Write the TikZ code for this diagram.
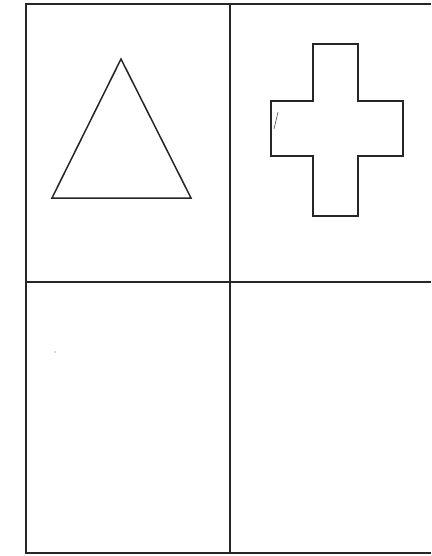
\documentclass[tikz,border=0pt]{standalone}
\begin{document}
\begin{tikzpicture}[x=1pt,y=-1pt,
  gridline/.style={draw=black!85,line width=1.8pt},
  shapeline/.style={draw=black!85,line width=1.5pt,line join=miter}]
\useasboundingbox[fill=white] (0,0) rectangle (431,556);
% grid
\coordinate (tl) at (26,4);
\coordinate (tr) at (431,4);
\coordinate (bl) at (26,553);
\coordinate (br) at (431,553);
\coordinate (mt) at (230,4);
\coordinate (mb) at (230,553);
\coordinate (ml) at (26,282);
\coordinate (mr) at (431,282);
\draw[gridline] (tr) -- (tl) -- (bl) -- (br);
\draw[gridline] (mt) -- (mb);
\draw[gridline] (ml) -- (mr);
% triangle
\coordinate (ta) at (121,59);
\coordinate (tb) at (52,198);
\coordinate (tc) at (191,198);
\draw[shapeline] (ta) -- (tb) -- (tc) -- cycle;
% cross
\draw[shapeline] (313,44) -- (358,44) -- (358,101) -- (403,101) -- (403,156)
  -- (358,156) -- (358,216) -- (313,216) -- (313,156) -- (271,156)
  -- (271,101) -- (313,101) -- cycle;
\draw[draw=black!70,line width=0.6pt] (278,112) -- (274,129);
\fill[black!60] (55,352) circle (0.7);
\end{tikzpicture}
\end{document}
